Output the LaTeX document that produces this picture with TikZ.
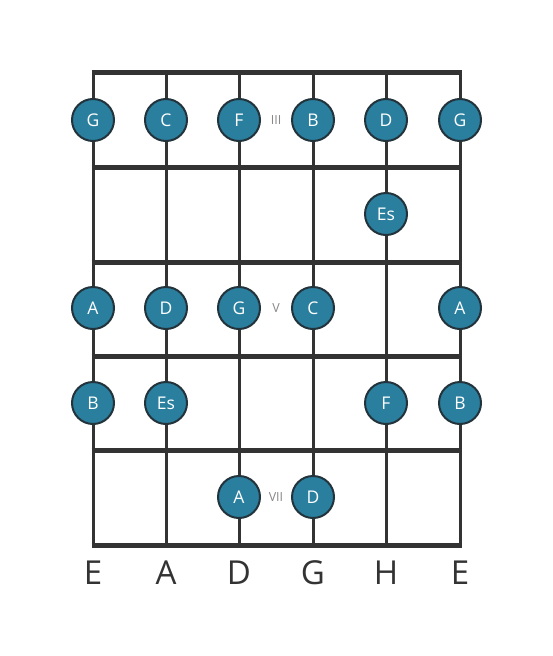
\documentclass[tikz,border=0pt]{standalone}
\usepackage{fontspec}
\setmainfont{Open Sans}
\definecolor{notefill}{HTML}{2A7F9E}
\definecolor{noteedge}{HTML}{23333B}
\definecolor{linecol}{HTML}{333333}
\definecolor{numcol}{HTML}{888888}
\begin{document}
\begin{tikzpicture}[x=1pt,y=-1pt,
  note/.style={circle,draw=noteedge,line width=2pt,fill=notefill,minimum size=42pt,inner sep=0pt,text=white,font=\fontsize{17.5}{17.5}\selectfont},
  fretnum/.style={text=numcol,font=\fontsize{12.5}{12.5}\selectfont},
  strlabel/.style={text=linecol,font=\fontsize{33}{33}\selectfont},
  fretline/.style={draw=linecol,line width=5pt},
  stringline/.style={draw=linecol,line width=3pt}]
\useasboundingbox (0,0) rectangle (553,656);
% strings
\foreach \x/\n in {93/1,166/2,239/3,313/4,386/5,460/6}{
  \coordinate (st\n) at (\x,72);
  \coordinate (sb\n) at (\x,545);
  \draw[stringline] (st\n) -- (sb\n);
}
% frets
\foreach \y/\n in {72/0,167/1,262/2,356/3,450/4,545/5}{
  \coordinate (fl\n) at (91.5,\y);
  \coordinate (fr\n) at (461.5,\y);
  \draw[fretline] (fl\n) -- (fr\n);
}
% notes
\node[note] (n1) at (93,120) {G};
\node[note] (n2) at (166,120) {C};
\node[note] (n3) at (239,120) {F};
\node[fretnum] (r3) at (276,120) {III};
\node[note] (n4) at (313,120) {B};
\node[note] (n5) at (386,120) {D};
\node[note] (n6) at (460,120) {G};
\node[note] (n7) at (386,214) {Es};
\node[note] (n8) at (93,308) {A};
\node[note] (n9) at (166,308) {D};
\node[note] (n10) at (239,308) {G};
\node[fretnum] (r5) at (276,308) {V};
\node[note] (n11) at (313,308) {C};
\node[note] (n12) at (460,308) {A};
\node[note] (n13) at (93,403) {B};
\node[note] (n14) at (166,403) {Es};
\node[note] (n15) at (386,403) {F};
\node[note] (n16) at (460,403) {B};
\node[note] (n17) at (239,497) {A};
\node[fretnum] (r7) at (276,497) {VII};
\node[note] (n18) at (313,497) {D};
% string names
\foreach \x/\t/\n in {93/E/1,166/A/2,239/D/3,313/G/4,386/H/5,460/E/6}{
  \node[strlabel] (lab\n) at (\x,573) {\t};
}
\end{tikzpicture}
\end{document}
